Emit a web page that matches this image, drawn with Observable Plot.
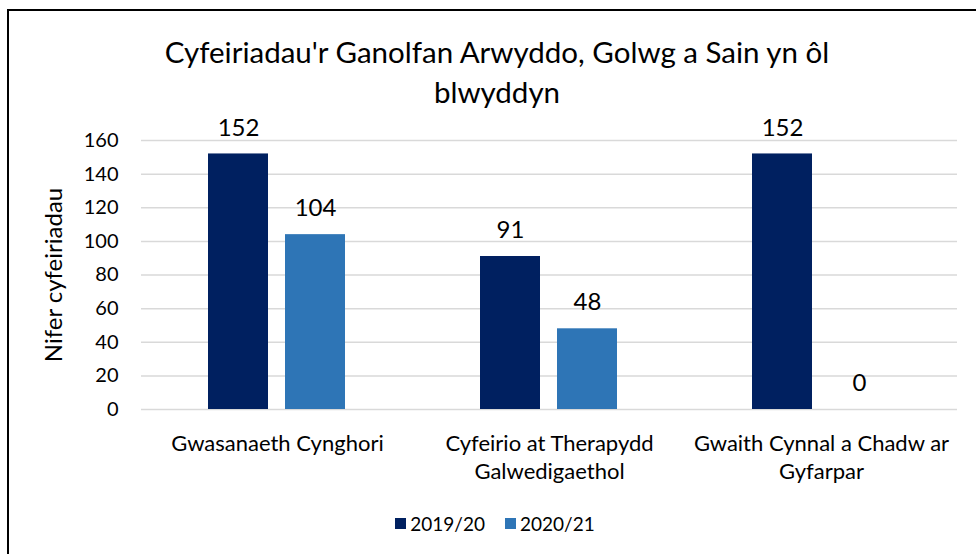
<!DOCTYPE html>
<html>
<head>
<meta charset="utf-8">
<script src="https://cdn.jsdelivr.net/npm/d3@7"></script>
<script src="https://cdn.jsdelivr.net/npm/@observablehq/plot@0.6"></script>
<style>
  html, body { margin: 0; padding: 0; background: #fff; }
  body { width: 976px; height: 554px; overflow: hidden; position: relative; font-family: Lato, "Open Sans", sans-serif; color: #000; }
  #frame { position: absolute; left: 7px; top: 9px; width: 2000px; height: 2000px; border-left: 2px solid #000; border-top: 2px solid #000; }
  #title { position: absolute; left: 47px; width: 900px; top: 32px; text-align: center; font-size: 29.5px; line-height: 40px; }
  #chart { position: absolute; left: 0; top: 100px; }
  #legend { position: absolute; left: 0; width: 990px; top: 510px; text-align: center; font-size: 19px; line-height: 24px; }
  .item { display: inline-flex; align-items: center; margin: 0 10px; }
  .sw { width: 11px; height: 11px; margin-right: 4px; display: inline-block; }
</style>
</head>
<body>
<div id="frame"></div>
<div id="title">Cyfeiriadau'r Ganolfan Arwyddo, Golwg a Sain yn ôl<br>blwyddyn</div>
<div id="chart"></div>
<div id="legend"></div>
<script>
const categories = ["Gwasanaeth Cynghori", "Cyfeirio at Therapydd Galwedigaethol", "Gwaith Cynnal a Chadw ar Gyfarpar"];
const categoryLabels = ["Gwasanaeth Cynghori", "Cyfeirio at Therapydd\nGalwedigaethol", "Gwaith Cynnal a Chadw ar\nGyfarpar"];
const series = ["2019/20", "2020/21"];
const values2019 = [152, 91, 152];
const values2020 = [104, 48, 0];
const colors = ["#002060", "#2E75B6"];
const yTicks = [0, 20, 40, 60, 80, 100, 120, 140, 160];
const yLabel = "Nifer cyfeiriadau";

const data = [];
categories.forEach((c, i) => {
  data.push({category: c, series: series[0], value: values2019[i]});
  data.push({category: c, series: series[1], value: values2020[i]});
});
const labelOf = new Map(categories.map((c, i) => [c, categoryLabels[i]]));

const chart = Plot.plot({
  width: 976,
  height: 390,
  marginLeft: 140,
  marginRight: 18,
  marginTop: 40,
  marginBottom: 81,
  style: {fontFamily: "Lato, 'Open Sans', sans-serif", color: "#000", background: "transparent"},
  fx: {domain: categories, padding: 0, label: null},
  x: {domain: series, paddingInner: 0.22, paddingOuter: 0.86, axis: null},
  y: {domain: [0, 160]},
  color: {domain: series, range: colors},
  marks: [
    Plot.gridY(yTicks, {stroke: "#d9d9d9", strokeOpacity: 1, strokeWidth: 1.5}),
    Plot.barY(data, {fx: "category", x: "series", y: "value", fill: "series"}),
    Plot.text(data, {fx: "category", x: "series", y: "value", text: d => String(d.value), dy: -26, fontSize: 24, fill: "#000"}),
    Plot.text(yTicks, {y: d => d, text: d => String(d), frameAnchor: "left", textAnchor: "end", dx: -23, fontSize: 20, fill: "#000", facetAnchor: "left"}),
    Plot.axisY(yTicks, {tickSize: 0, tickFormat: () => "", fontSize: 24, label: yLabel, labelAnchor: "center", labelArrow: "none", labelOffset: 97, dx: -8}),
    Plot.axisFx({anchor: "bottom", tickSize: 0, tickPadding: 21, fontSize: 22, lineHeight: 1.3, label: null, tickFormat: d => labelOf.get(d)})
  ]
});
document.getElementById("chart").appendChild(chart);

const legend = document.getElementById("legend");
series.forEach((s, i) => {
  const item = document.createElement("span");
  item.className = "item";
  const sw = document.createElement("span");
  sw.className = "sw";
  sw.style.background = colors[i];
  item.appendChild(sw);
  item.appendChild(document.createTextNode(s));
  legend.appendChild(item);
});
</script>
</body>
</html>
